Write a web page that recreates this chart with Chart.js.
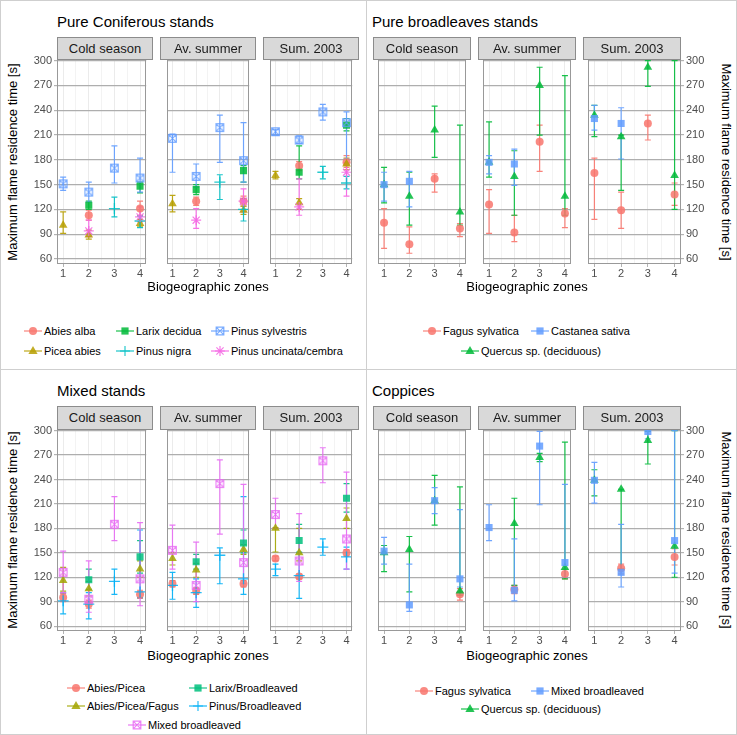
<!DOCTYPE html>
<html>
<head>
<meta charset="utf-8">
<script src="https://cdn.jsdelivr.net/npm/chart.js@4.4.0/dist/chart.umd.min.js"></script>
<style>
body { margin: 0; background: #fff; font-family: "Liberation Sans", Arial, sans-serif; }
#page { position: relative; width: 737px; height: 735px; overflow: hidden; background: #fff; }
.abs { position: absolute; }
.box { border: 1px solid #cfcfcf; box-sizing: border-box; }
.title { font-size: 15px; line-height: 18px; color: #000; white-space: nowrap; }
.strip { background: #d9d9d9; border: 1px solid #8c8c8c; box-sizing: border-box; font-size: 13px; color: #1a1a1a; text-align: center; line-height: 21px; z-index: 2; }
.axt { font-size: 13px; line-height: 16px; color: #000; white-space: nowrap; }
.leg { font-size: 11px; line-height: 14px; color: #000; white-space: nowrap; }
</style>
</head>
<body>
<div id="page"></div>
<script>
const zones = [1, 2, 3, 4];
const seasons = ["Cold season", "Av. summer", "Sum. 2003"];
const yTicks = [60, 90, 120, 150, 180, 210, 240, 270, 300];

// each row: cold season z1-4, av. summer z1-4, sum. 2003 z1-4
const coniferNames = ["Abies alba", "Picea abies", "Larix decidua", "Pinus nigra", "Pinus sylvestris", "Pinus uncinata/cembra"];
const coniferMean = [
    [null, 113, null, 121,  null, 130, null, 130,  null, 173, null, 177],
    [101, 89, null, 103,  127, null, null, 119,  161, 128, null, 175],
    [null, 125, null, 148,  null, 144, null, 167,  null, 165, null, 222],
    [null, null, 121, 106,  null, null, 153, 120,  null, null, 165, 152],
    [151, 141, 170, 158,  206, 160, 219, 179,  214, 204, 238, 225],
    [null, 94, null, 111,  null, 107, null, 130,  null, 123, null, 165]
];
const coniferLow = [
    [null, 107, null, 113,  null, 125, null, 124,  null, 167, null, 171],
    [91, 84, null, 99,  117, null, null, 114,  157, 120, null, 168],
    [null, 120, null, 140,  null, 138, null, 153,  null, 157, null, 215],
    [null, null, 111, 98,  null, null, 132, 106,  null, null, 157, 145],
    [143, 129, 152, 141,  165, 147, 177, 153,  210, 200, 228, 181],
    [null, 87, null, 105,  null, 97, null, 117,  null, 113, null, 136]
];
const coniferHigh = [
    [null, 119, null, 130,  null, 135, null, 136,  null, 178, null, 185],
    [117, 95, null, 108,  137, null, null, 124,  166, 133, null, 182],
    [null, 130, null, 153,  null, 150, null, 173,  null, 197, null, 230],
    [null, null, 135, 112,  null, null, 162, 133,  null, null, 172, 160],
    [159, 153, 197, 182,  211, 175, 234, 225,  217, 209, 247, 238],
    [null, 107, null, 123,  null, 121, null, 145,  null, 157, null, 177]
];

const broadNames = ["Fagus sylvatica", "Quercus sp. (deciduous)", "Castanea sativa"];
const broadMean = [
    [104, 78, 157, 97,  126, 92, 202, 115,  164, 119, 224, 138],
    [150, 136, 216, 117,  177, 160, 270, 136,  234, 208, 292, 161],
    [150, 154, null, null,  177, 175, null, null,  230, 224, null, null]
];
const broadLow = [
    [73, 67, 141, 87,  91, 81, 166, 98,  108, 97, 204, 125],
    [128, 101, 183, 101,  159, 113, 210, 113,  208, 143, 269, 120],
    [130, 123, null, null,  163, 149, null, null,  216, 181, null, null]
];
const broadHigh = [
    [121, 99, 163, 103,  144, 113, 222, 121,  182, 141, 234, 152],
    [171, 165, 245, 222,  226, 191, 292, 282,  246, 210, 300, 300],
    [165, 166, null, null,  185, 193, null, null,  246, 243, null, null]
];

const mixedNames = ["Abies/Picea", "Abies/Picea/Fagus", "Larix/Broadleaved", "Pinus/Broadleaved", "Mixed broadleaved"];
const mixedMean = [
    [95, 87, null, 99,  112, 103, null, 112,  143, 121, null, 150],
    [116, 106, null, 130,  143, 129, null, 154,  180, 150, null, 192],
    [null, 117, null, 145,  null, 139, null, 162,  null, 165, null, 217],
    [91, 87, 115, 102,  110, 101, 147, 118,  130, 122, 157, 145],
    [126, 93, 185, 118,  153, 110, 235, 138,  197, 140, 263, 167]
];
const mixedLow = [
    [90, 82, null, 94,  108, 99, null, 108,  140, 118, null, 146],
    [103, 97, null, 120,  135, 120, null, 148,  151, 140, null, 180],
    [null, 105, null, 125,  null, 130, null, 150,  null, 150, null, 200],
    [75, 69, 99, 95,  93, 83, 112, 99,  122, 94, 147, 130],
    [101, 77, 165, 85,  130, 90, 173, 112,  180, 115, 236, 130]
];
const mixedHigh = [
    [100, 92, null, 104,  116, 107, null, 116,  146, 124, null, 154],
    [132, 115, null, 140,  150, 137, null, 160,  181, 180, null, 205],
    [null, 130, null, 165,  null, 148, null, 178,  null, 185, null, 235],
    [101, 101, 130, 178,  126, 118, 156, 219,  136, 151, 167, 157],
    [152, 140, 219, 187,  184, 163, 264, 234,  217, 198, 279, 249]
];

const coppiceNames = ["Fagus sylvatica", "Quercus sp. (deciduous)", "Mixed broadleaved"];
const coppiceMean = [
    [null, null, null, 99,  null, 105, null, 124,  null, 131, null, 145],
    [150, 154, 214, 103,  null, 186, 267, 132,  239, 228, 288, 158],
    [152, 86, 214, 118,  181, 104, 281, 138,  239, 126, 299, 165]
];
const coppiceLow = [
    [null, null, null, 92,  null, 100, null, 118,  null, 124, null, 135],
    [127, 102, 184, 98,  null, 110, 262, 118,  220, 130, 259, 120],
    [136, 78, 198, 108,  165, 91, 209, 120,  211, 108, 290, 125]
];
const coppiceHigh = [
    [null, null, null, 106,  null, 110, null, 130,  null, 136, null, 155],
    [159, 170, 245, 231,  null, 217, 272, 286,  252, 228, 299, 300],
    [169, 136, 230, 203,  209, 167, 299, 234,  261, 185, 305, 300]
];

// styles
const hue3 = ["#F8766D", "#00BA38", "#619CFF"];
const coniferColors = ["#F8766D", "#B79F00", "#00BA38", "#00BFC4", "#619CFF", "#F564E3"];
const coniferShapes = ["circle", "triangle", "square", "plus", "sqx", "star"];
const mixedColors = ["#F8766D", "#A3A500", "#00BF7D", "#00B0F6", "#E76BF3"];
const mixedShapes = ["circle", "triangle", "square", "plus", "sqx"];
const threeShapes = ["circle", "triangle", "square"];

const FONT = '"Liberation Sans", Arial, sans-serif';
const page = document.getElementById("page");

const panels = [
    { title: "Pure Coniferous stands", names: coniferNames, mean: coniferMean, low: coniferLow, high: coniferHigh,
      colors: coniferColors, shapes: coniferShapes,
      box: [0, 0, 367, 370], titleX: 57, titleY: 13, facetX: [57, 160, 263], facetW: 96,
      stripTop: 37, plotTop: 59, plotH: 205, side: "left", yTitleX: 13, xTitleY: 279,
      legend: [[33, 331], [33, 351], [125, 331], [125, 351], [220, 331], [220, 351]] },
    { title: "Pure broadleaves stands", names: broadNames, mean: broadMean, low: broadLow, high: broadHigh,
      colors: hue3, shapes: threeShapes,
      box: [366, 0, 371, 370], titleX: 372, titleY: 13, facetX: [373, 478, 583], facetW: 98,
      stripTop: 37, plotTop: 59, plotH: 205, side: "right", yTitleX: 726, xTitleY: 279,
      legend: [[432, 331], [470, 351], [540, 331]] },
    { title: "Mixed stands", names: mixedNames, mean: mixedMean, low: mixedLow, high: mixedHigh,
      colors: mixedColors, shapes: mixedShapes,
      box: [0, 369, 367, 366], titleX: 57, titleY: 382, facetX: [57, 160, 263], facetW: 96,
      stripTop: 406, plotTop: 429, plotH: 202, side: "left", yTitleX: 13, xTitleY: 648,
      legend: [[76, 688], [76, 706], [198, 688], [198, 706], [137, 725]] },
    { title: "Coppices", names: coppiceNames, mean: coppiceMean, low: coppiceLow, high: coppiceHigh,
      colors: hue3, shapes: threeShapes,
      box: [366, 369, 371, 366], titleX: 372, titleY: 382, facetX: [373, 478, 583], facetW: 98,
      stripTop: 406, plotTop: 429, plotH: 202, side: "right", yTitleX: 726, xTitleY: 648,
      legend: [[424, 691], [470, 709], [540, 691]] }
];

function rgba(hex, a) {
    const n = parseInt(hex.slice(1), 16);
    return `rgba(${n >> 16},${(n >> 8) & 255},${n & 255},${a})`;
}

function el(cls, css, text) {
    const d = document.createElement("div");
    d.className = "abs " + cls;
    Object.assign(d.style, css);
    if (text != null) d.textContent = text;
    page.appendChild(d);
    return d;
}

function drawMarker(ctx, shape, x, y, color) {
    ctx.save();
    ctx.fillStyle = color;
    ctx.strokeStyle = color;
    ctx.lineWidth = 1.2;
    ctx.beginPath();
    if (shape === "circle") {
        ctx.arc(x, y, 4, 0, Math.PI * 2);
        ctx.fill();
    } else if (shape === "triangle") {
        ctx.moveTo(x, y - 5); ctx.lineTo(x + 4.6, y + 3); ctx.lineTo(x - 4.6, y + 3);
        ctx.closePath(); ctx.fill();
    } else if (shape === "square") {
        ctx.fillRect(x - 3.6, y - 3.6, 7.2, 7.2);
    } else if (shape === "plus") {
        ctx.moveTo(x - 5, y); ctx.lineTo(x + 5, y);
        ctx.moveTo(x, y - 5); ctx.lineTo(x, y + 5);
        ctx.stroke();
    } else if (shape === "sqx") {
        ctx.rect(x - 3.8, y - 3.8, 7.6, 7.6);
        ctx.moveTo(x - 3.8, y - 3.8); ctx.lineTo(x + 3.8, y + 3.8);
        ctx.moveTo(x + 3.8, y - 3.8); ctx.lineTo(x - 3.8, y + 3.8);
        ctx.stroke();
    } else if (shape === "star") {
        ctx.moveTo(x - 5, y); ctx.lineTo(x + 5, y);
        ctx.moveTo(x, y - 5); ctx.lineTo(x, y + 5);
        ctx.moveTo(x - 3.6, y - 3.6); ctx.lineTo(x + 3.6, y + 3.6);
        ctx.moveTo(x + 3.6, y - 3.6); ctx.lineTo(x - 3.6, y + 3.6);
        ctx.stroke();
    }
    ctx.restore();
}

function sqxImage(color) {
    const c = document.createElement("canvas");
    c.width = 11; c.height = 11;
    drawMarker(c.getContext("2d"), "sqx", 5.5, 5.5, color);
    return c;
}

function pointOpts(shape, color) {
    const c = rgba(color, 0.85);
    const o = { pointBackgroundColor: c, pointBorderColor: c, pointBorderWidth: 0, pointHoverRadius: 0 };
    if (shape === "circle") return { ...o, pointStyle: "circle", pointRadius: 4 };
    if (shape === "triangle") return { ...o, pointStyle: "triangle", pointRadius: 5 };
    if (shape === "square") return { ...o, pointStyle: "rect", pointRadius: 5 };
    if (shape === "plus") return { ...o, pointStyle: "cross", pointRadius: 5.5, pointBorderWidth: 1.3 };
    if (shape === "star") return { ...o, pointStyle: "star", pointRadius: 5, pointBorderWidth: 1.2 };
    return { ...o, pointStyle: sqxImage(c), pointRadius: 5 };
}

const errorBars = {
    id: "errorBars",
    beforeDatasetsDraw(chart) {
        const { ctx, chartArea: a, scales: { x, y } } = chart;
        ctx.save();
        ctx.beginPath();
        ctx.rect(a.left, a.top, a.right - a.left, a.bottom - a.top);
        ctx.clip();
        ctx.lineWidth = 1.2;
        chart.data.datasets.forEach(ds => {
            ctx.strokeStyle = ds.barColor;
            ds.data.forEach(p => {
                if (p.lo == null) return;
                const px = x.getPixelForValue(p.x);
                const lo = y.getPixelForValue(p.lo), hi = y.getPixelForValue(p.hi);
                ctx.beginPath();
                ctx.moveTo(px, lo); ctx.lineTo(px, hi);
                ctx.moveTo(px - 3, lo); ctx.lineTo(px + 3, lo);
                ctx.moveTo(px - 3, hi); ctx.lineTo(px + 3, hi);
                ctx.stroke();
            });
        });
        ctx.restore();
    }
};

const frame = {
    id: "frame",
    afterDraw(chart) {
        const { ctx, chartArea: a } = chart;
        ctx.save();
        ctx.strokeStyle = "#999999";
        ctx.lineWidth = 1;
        ctx.strokeRect(Math.round(a.left) + 0.5, Math.round(a.top) + 0.5,
            Math.round(a.right - a.left) - 1, Math.round(a.bottom - a.top) - 1);
        ctx.restore();
    }
};

const PAD_TOP = 8, X_AXIS_H = 16, Y_AXIS_W = 30;

function buildFacet(p, s) {
    const edge = (p.side === "left" && s === 0) || (p.side === "right" && s === 2);
    const canvas = document.createElement("canvas");
    const w = p.facetW + (edge ? Y_AXIS_W : 0);
    const h = PAD_TOP + p.plotH + X_AXIS_H;
    canvas.width = w; canvas.height = h;
    canvas.className = "abs";
    canvas.style.left = (p.facetX[s] - (edge && p.side === "left" ? Y_AXIS_W : 0)) + "px";
    canvas.style.top = (p.plotTop - PAD_TOP) + "px";
    canvas.style.width = w + "px"; canvas.style.height = h + "px";
    page.appendChild(canvas);

    const datasets = p.names.map((name, k) => {
        const pts = [];
        zones.forEach((z, j) => {
            const v = p.mean[k][s * 4 + j];
            if (v != null) pts.push({ x: z, y: v, lo: p.low[k][s * 4 + j], hi: p.high[k][s * 4 + j] });
        });
        return { label: name, data: pts, order: -k, barColor: rgba(p.colors[k], 0.9), ...pointOpts(p.shapes[k], p.colors[k]) };
    });

    new Chart(canvas, {
        type: "scatter",
        data: { datasets },
        plugins: [errorBars, frame],
        options: {
            animation: false,
            responsive: false,
            devicePixelRatio: 1,
            layout: { padding: { top: PAD_TOP, left: 0, right: 0, bottom: 0 } },
            plugins: { legend: { display: false }, tooltip: { enabled: false } },
            scales: {
                x: {
                    type: "linear", min: 0.76, max: 4.24,
                    afterBuildTicks: sc => { sc.ticks = [1, 1.5, 2, 2.5, 3, 3.5, 4].map(v => ({ value: v })); },
                    afterFit: sc => { sc.height = X_AXIS_H; sc.paddingLeft = 0; sc.paddingRight = 0; },
                    ticks: {
                        autoSkip: false, maxRotation: 0, padding: 0, color: "#4d4d4d",
                        font: { family: FONT, size: 11 },
                        callback: v => Number.isInteger(v) ? String(v) : ""
                    },
                    grid: {
                        color: "#ebebeb",
                        lineWidth: c => c.tick && Number.isInteger(c.tick.value) ? 1 : 0.6,
                        tickLength: 3,
                        tickColor: c => c.tick && Number.isInteger(c.tick.value) ? "#b3b3b3" : "rgba(0,0,0,0)"
                    },
                    border: { display: false }
                },
                y: {
                    type: "linear", min: 54, max: 302, position: p.side,
                    afterBuildTicks: sc => { sc.ticks = yTicks.map(v => ({ value: v })); },
                    afterFit: sc => { sc.width = edge ? Y_AXIS_W : 0; sc.paddingTop = 0; sc.paddingBottom = 0; },
                    ticks: { display: edge, padding: 2, color: "#4d4d4d", font: { family: FONT, size: 11 } },
                    grid: { color: "#aeaeae", lineWidth: 1.2, drawTicks: edge, tickLength: 3, tickColor: "#b3b3b3" },
                    border: { display: false }
                }
            }
        }
    });
}

function buildLegend(p) {
    p.names.forEach((name, k) => {
        const [mx, my] = p.legend[k];
        const c = document.createElement("canvas");
        c.width = 20; c.height = 14;
        c.className = "abs";
        c.style.left = (mx - 10) + "px";
        c.style.top = (my - 7) + "px";
        page.appendChild(c);
        const ctx = c.getContext("2d");
        ctx.strokeStyle = rgba(p.colors[k], 0.9);
        ctx.lineWidth = 1.2;
        ctx.beginPath(); ctx.moveTo(1, 7); ctx.lineTo(19, 7); ctx.stroke();
        drawMarker(ctx, p.shapes[k], 10, 7, rgba(p.colors[k], 0.85));
        el("leg", { left: (mx + 11) + "px", top: (my - 7) + "px" }, name);
    });
}

panels.forEach(p => {
    const [bx, by, bw, bh] = p.box;
    el("box", { left: bx + "px", top: by + "px", width: bw + "px", height: bh + "px" });
    el("title", { left: p.titleX + "px", top: p.titleY + "px" }, p.title);

    seasons.forEach((name, s) => {
        el("strip", { left: p.facetX[s] + "px", top: p.stripTop + "px", width: p.facetW + "px", height: (p.plotTop - p.stripTop + 1) + "px" }, name);
        buildFacet(p, s);
    });

    const left = p.facetX[0], right = p.facetX[2] + p.facetW;
    const xt = el("axt", { top: p.xTitleY + "px", left: left + "px", width: (right - left) + "px", textAlign: "center" }, "Biogeographic zones");

    const cy = p.plotTop + p.plotH / 2;
    const yt = el("axt", { left: (p.yTitleX - 150) + "px", top: (cy - 8) + "px", width: "300px", textAlign: "center" }, "Maximum flame residence time [s]");
    yt.style.transform = p.side === "left" ? "rotate(-90deg)" : "rotate(90deg)";

    buildLegend(p);
});
</script>
</body>
</html>
